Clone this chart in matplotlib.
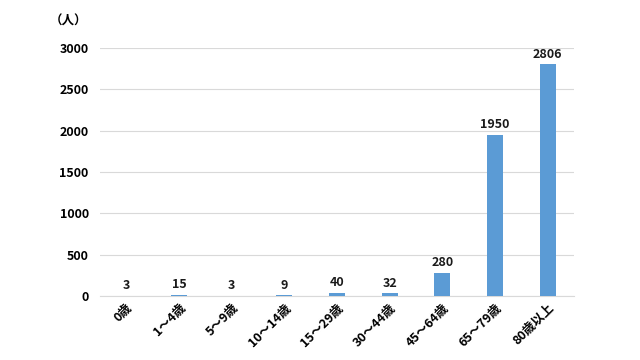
import matplotlib
matplotlib.use("Agg")
import matplotlib.pyplot as plt

plt.rcParams['font.family'] = ['Noto Sans CJK JP', 'DejaVu Sans']

categories = ["0歳", "1～4歳", "5～9歳", "10～14歳", "15～29歳", "30～44歳", "45～64歳", "65～79歳", "80歳以上"]
values = [3, 15, 3, 9, 40, 32, 280, 1950, 2806]
yticks = [0, 500, 1000, 1500, 2000, 2500, 3000]

fig = plt.figure(figsize=(6.4, 3.6), dpi=100)
ax = fig.add_axes([0.156, 0.178, 0.741, 0.689])
x = range(len(categories))
bars = ax.bar(x, values, width=0.3, color="#5B9BD5", zorder=3)
for xi, v in zip(x, values):
    ax.text(xi, v + 40, str(v), ha="center", va="bottom", fontsize=9, fontweight="bold", color="#1a1a1a")
ax.set_ylim(0, 3000)
ax.set_xlim(-0.5, len(categories) - 0.5)
ax.set_yticks(yticks)
ax.set_yticklabels([str(t) for t in yticks], fontsize=9, fontweight="bold")
ax.set_xticks(list(x))
ax.set_xticklabels(categories, rotation=45, ha="right", rotation_mode="anchor", fontsize=9, fontweight="bold")
ax.grid(axis="y", color="#d9d9d9", linewidth=0.8, zorder=0)
for s in ["top", "right", "left"]:
    ax.spines[s].set_visible(False)
ax.spines["bottom"].set_color("#d9d9d9")
ax.tick_params(axis="both", length=0, pad=8)
ax.tick_params(axis="x", pad=4)
fig.text(68 / 640, 1 - 21 / 360, "（人）", ha="center", va="center", fontsize=9, fontweight="bold")
fig.savefig("out.png", dpi=100)
